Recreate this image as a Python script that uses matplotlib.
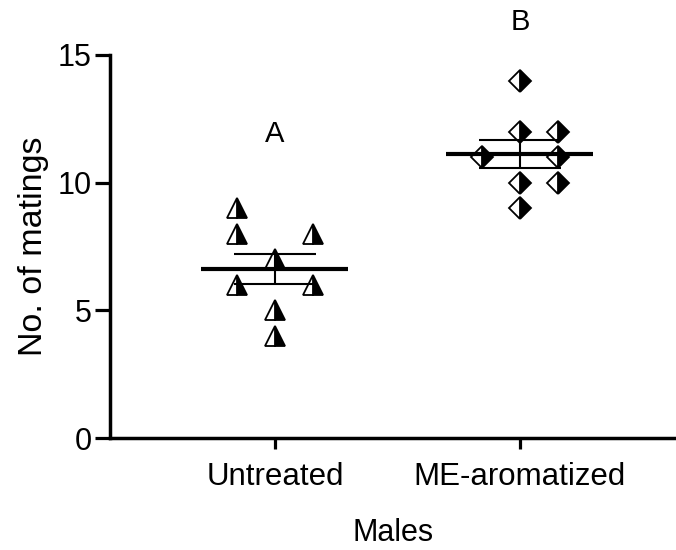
import numpy as np
import matplotlib.pyplot as plt

plt.rcParams['font.family'] = ['Liberation Sans', 'DejaVu Sans']

groups = ['Untreated', 'ME-aromatized']
untreated = [9, 8, 8, 7, 6, 6, 5, 4]
untreated_off = [-1, -1, 1, 0, -1, 1, 0, 0]
aromatized = [14, 12, 12, 11, 11, 10, 10, 9]
aromatized_off = [0, 0, 1, -1, 1, 0, 1, 0]
letters = ['A', 'B']
letter_y = [11.9, 16.3]

fig = plt.figure(figsize=(6.76, 5.5), dpi=100)
ax = fig.add_axes([0.1627, 0.2036, 0.8373, 0.6964])

markers = ['^', 'D']
sizes = [15, 11]
for i, (vals, offs) in enumerate([(untreated, untreated_off), (aromatized, aromatized_off)]):
    xc = i + 1
    vals = np.array(vals, dtype=float)
    xs = xc + 0.155 * np.array(offs)
    ax.plot(xs, vals, linestyle='none', marker=markers[i], ms=sizes[i],
            fillstyle='right', markerfacecolor='black', markerfacecoloralt='white',
            markeredgecolor='black', mew=1.3, zorder=3)
    # mean with SEM bars
    m = vals.mean()
    sem = vals.std(ddof=1) / np.sqrt(len(vals))
    ax.hlines(m, xc - 0.3, xc + 0.3, color='black', lw=3, zorder=4)
    ax.hlines([m - sem, m + sem], xc - 0.167, xc + 0.167, color='black', lw=1.5, zorder=4)
    ax.vlines(xc, m - sem, m + sem, color='black', lw=1.5, zorder=4)
    ax.text(xc, letter_y[i], letters[i], ha='center', va='center', fontsize=21, clip_on=False)

ax.set_xlim(0.3265, 2.637)
ax.set_ylim(0, 15)
ax.set_yticks([0, 5, 10, 15])
ax.set_xticks([1, 2])
ax.set_xticklabels(groups)
ax.spines['top'].set_visible(False)
ax.spines['right'].set_visible(False)
for s in ['left', 'bottom']:
    ax.spines[s].set_linewidth(2.5)
ax.tick_params(axis='y', length=11, width=2.3, labelsize=22, pad=2)
ax.tick_params(axis='x', length=8, width=2.3, labelsize=22.5, pad=9)
ax.set_ylabel('No. of matings', fontsize=24.5, labelpad=6)
ax.set_xlabel('Males', fontsize=22, labelpad=19)

fig.savefig('out.png', dpi=100)
